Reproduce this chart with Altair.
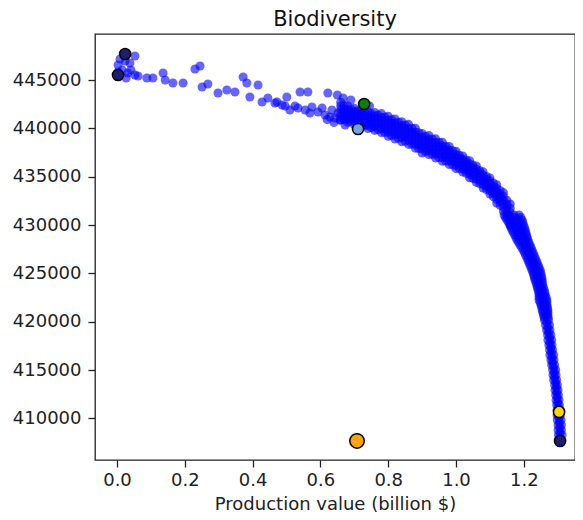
import altair as alt
import pandas as pd

# ---- sparse part of the cloud (left / upper) ----
sparse_x = [0.053, 0.003, 0.015, 0.032, 0.053, 0.088, 0.106, 0.136, 0.142, 0.165,
            0.195, 0.230, 0.245, 0.251, 0.268, 0.298, 0.324, 0.348, 0.372, 0.383,
            0.392, 0.416, 0.428, 0.445, 0.472, 0.487, 0.501, 0.525, 0.540, 0.563,
            0.575, 0.605, 0.622, 0.634, 0.658, 0.667,
            0.009, 0.024, 0.003, 0.027, 0.041, 0.062, 0.038,
            0.466, 0.496, 0.510, 0.534, 0.555, 0.569, 0.593, 0.614, 0.628, 0.643,
            0.652, 0.673, 0.673, 0.650, 0.690, 0.745, 0.620, 0.640]
sparse_y = [447480, 446550, 446040, 445720, 445520, 445210, 445210, 445720, 445000, 444690,
            444690, 446140, 446450, 444280, 444590, 443660, 443970, 443760, 445310, 444690,
            443240, 444480, 442720, 443140, 442720, 442410, 443240, 442310, 443760, 443760,
            442210, 442100, 443660, 441900, 440860, 443140,
            447170, 446970, 445830, 445210, 446040, 445410, 446760,
            442620, 442310, 441900, 442100, 441900, 441590, 441690, 441380, 441170, 441070,
            441590, 441070, 440350, 443450, 442930, 442310, 440900, 440600]

# ---- dense band (columns) ----
band_x = [0.66, 0.68, 0.70, 0.72, 0.74, 0.76, 0.78, 0.80, 0.82, 0.84, 0.86, 0.88, 0.90,
          0.92, 0.94, 0.96, 0.98, 1.00, 1.02, 1.04, 1.06, 1.08, 1.10, 1.12, 1.14, 1.16]
band_y = [
    [442700, 442330, 441960, 441590, 441220, 440850],
    [442330, 441990, 441650, 441300, 440960, 440620],
    [442070, 441740, 441410, 441080, 440750, 440420],
    [441870, 441540, 441210, 440870, 440540, 440210],
    [441730, 441380, 441030, 440690, 440340, 439990],
    [441640, 441270, 440900, 440530, 440160, 439790],
    [441520, 441130, 440740, 440340, 439950, 439560],
    [441250, 440840, 440420, 440010, 439590, 439180],
    [440970, 440560, 440140, 439730, 439310, 438900],
    [440690, 440280, 439860, 439450, 439030, 438620],
    [440410, 440000, 439580, 439170, 438750, 438340],
    [440010, 439600, 439190, 438770, 438360, 437950],
    [439470, 439070, 438660, 438260, 437850, 437450],
    [439260, 438860, 438470, 438070, 437680, 437280],
    [438910, 438520, 438120, 437730, 437330, 436940],
    [438550, 438160, 437770, 437380, 436990, 436600],
    [438120, 437750, 437370, 437000, 436620, 436250],
    [437630, 437270, 436910, 436550, 436190, 435830],
    [437140, 436810, 436480, 436140, 435810, 435480],
    [436650, 436300, 435950, 435590, 435240, 434890],
    [436100, 435760, 435420, 435090, 434750, 434410],
    [435500, 435160, 434830, 434490, 434160, 433820],
    [434870, 434540, 434210, 433870, 433540, 433210],
    [434170, 433790, 433420, 433040, 432660, 432280],
    [433350, 432970, 432580, 432200, 431820, 431430],
    [432170, 431740, 431300, 430870, 430430, 430000],
]
# staggered columns of the dense band
band2_x = [0.67, 0.69, 0.71, 0.73, 0.75, 0.77, 0.79, 0.81, 0.83, 0.85, 0.87, 0.89,
           0.91, 0.93, 0.95, 0.97, 0.99, 1.01, 1.03, 1.05, 1.07, 1.09, 1.11, 1.13, 1.15]
band2_y = [
    [442340, 441980, 441630, 441270, 440910],
    [442030, 441700, 441360, 441020, 440690],
    [441810, 441470, 441140, 440810, 440480],
    [441630, 441290, 440950, 440610, 440270],
    [441510, 441150, 440790, 440430, 440070],
    [441390, 441010, 440630, 440250, 439870],
    [441180, 440780, 440380, 439980, 439570],
    [440900, 440490, 440080, 439660, 439250],
    [440620, 440210, 439800, 439380, 438970],
    [440340, 439930, 439520, 439100, 438690],
    [440000, 439590, 439180, 438770, 438350],
    [439540, 439130, 438720, 438310, 437900],
    [439170, 438770, 438370, 437970, 437570],
    [438890, 438490, 438100, 437700, 437310],
    [438530, 438140, 437750, 437360, 436970],
    [438140, 437760, 437380, 437000, 436620],
    [437690, 437330, 436960, 436590, 436220],
    [437210, 436870, 436520, 436170, 435830],
    [436720, 436380, 436040, 435700, 435360],
    [436200, 435860, 435510, 435170, 434820],
    [435630, 435300, 434960, 434620, 434280],
    [435020, 434680, 434350, 434020, 433680],
    [434340, 433990, 433630, 433280, 432920],
    [433570, 433190, 432810, 432430, 432050],
    [432560, 432150, 431740, 431330, 430920],
]

# ---- steep tail (rows) ----
tail_y = [431030, 430520, 430000, 429480, 428970, 428450, 427930, 427410, 426900, 426380,
          425860, 425340, 424830, 424310, 423790, 423280, 422760, 422240, 421720, 421210,
          420690, 420170, 419660, 419140, 418620, 418100, 417590, 417070, 416550, 416030,
          415520, 415000, 414480, 413970, 413450, 412930, 412410, 411900, 411380, 410860,
          410340, 409830, 409310, 408790, 408280, 407760]
tail_x = [
    [1.142, 1.156, 1.171, 1.186], [1.150, 1.165, 1.180, 1.195], [1.159, 1.173, 1.186, 1.199],
    [1.165, 1.179, 1.192, 1.204], [1.173, 1.184, 1.196, 1.208], [1.180, 1.190, 1.202, 1.212],
    [1.189, 1.204, 1.218], [1.198, 1.211, 1.224], [1.205, 1.218, 1.230], [1.212, 1.224, 1.236],
    [1.218, 1.230, 1.242], [1.224, 1.236, 1.248], [1.229, 1.239, 1.251], [1.233, 1.243, 1.254],
    [1.238, 1.246, 1.255], [1.242, 1.251, 1.260], [1.245, 1.254, 1.263], [1.245, 1.257, 1.268],
    [1.251, 1.260, 1.268], [1.254, 1.263, 1.271], [1.258, 1.266, 1.271],
    [1.261, 1.273], [1.264, 1.276], [1.267, 1.277], [1.270, 1.280], [1.271, 1.282],
    [1.274, 1.283], [1.276, 1.285], [1.277, 1.288], [1.280, 1.289], [1.282, 1.291],
    [1.285, 1.294], [1.286, 1.295], [1.288, 1.297], [1.291, 1.299], [1.292, 1.301],
    [1.294, 1.302], [1.295, 1.304], [1.297, 1.305], [1.298, 1.308], [1.298, 1.308],
    [1.299, 1.310], [1.301, 1.311], [1.301, 1.311], [1.302, 1.313], [1.302, 1.311],
]
# in-between rows of the steep tail
tail2_y = [430780, 430260, 429740, 429230, 428710, 428190, 427670, 427160, 426640, 426120,
           425600, 425090, 424570, 424050, 423540, 423020, 422500, 421980, 421470, 420950,
           420430, 419920, 419400, 418880, 418360, 417850, 417330, 416810, 416290, 415780,
           415260, 414740, 414230, 413710, 413190, 412670, 412160, 411640, 411120, 410600,
           410090, 409570, 409050, 408540, 408020]
tail2_x = [
    [1.146, 1.161, 1.176, 1.191], [1.155, 1.169, 1.183, 1.197], [1.162, 1.176, 1.189, 1.202],
    [1.169, 1.182, 1.194, 1.206], [1.177, 1.187, 1.199, 1.210], [1.185, 1.200, 1.215],
    [1.194, 1.208, 1.221], [1.202, 1.215, 1.227], [1.209, 1.221, 1.233], [1.215, 1.227, 1.239],
    [1.221, 1.233, 1.245], [1.227, 1.238, 1.250], [1.231, 1.241, 1.253], [1.236, 1.245, 1.255],
    [1.240, 1.249, 1.258], [1.244, 1.253, 1.262], [1.245, 1.256, 1.266], [1.248, 1.259, 1.268],
    [1.253, 1.262, 1.270], [1.256, 1.265, 1.271], [1.260, 1.272],
    [1.268], [1.271], [1.273], [1.276], [1.277], [1.280], [1.281], [1.283], [1.285],
    [1.288], [1.290], [1.291], [1.294], [1.296], [1.297], [1.299], [1.300], [1.302],
    [1.303], [1.304], [1.305], [1.306], [1.307], [1.307],
]

# ---- highlighted solutions ----
special_name = ["a", "b", "c", "d", "e", "f", "g"]
special_x = [0.024, 0.003, 0.729, 0.711, 0.708, 1.304, 1.307]
special_y = [447690, 445520, 442520, 439930, 407660, 410660, 407660]
special_color = ["#1c1f6e", "#1c1f6e", "#0a7d0a", "#6fa4e6", "#ffa500", "#ffd400", "#1c1f6e"]

xs, ys = list(sparse_x), list(sparse_y)
for cols_x, cols_y in ((band_x, band_y), (band2_x, band2_y)):
    for bx, col in zip(cols_x, cols_y):
        for v in col:
            xs.append(bx)
            ys.append(v)
for rows_y, rows_x in ((tail_y, tail_x), (tail2_y, tail2_x)):
    for ty, row in zip(rows_y, rows_x):
        for v in row:
            xs.append(v)
            ys.append(ty)
cloud = pd.DataFrame({"x": xs, "y": ys})
spec = pd.DataFrame({"name": special_name, "x": special_x, "y": special_y})

font = "DejaVu Sans"
xscale = alt.Scale(domain=[-0.0649, 1.3510], nice=False, zero=False)
yscale = alt.Scale(domain=[405690, 449760], nice=False, zero=False)

xaxis = alt.Axis(values=[0.0, 0.2, 0.4, 0.6, 0.8, 1.0, 1.2], format=".1f", grid=False,
                 domain=False, tickSize=7, tickWidth=1.3, tickColor="#222",
                 labelFont=font, labelFontSize=18, labelColor="#222", labelPadding=4,
                 title="Production value (billion $)", titleFont=font, titleFontSize=18,
                 titleFontWeight="normal", titleColor="#222", titlePadding=6)
yaxis = alt.Axis(values=[410000, 415000, 420000, 425000, 430000, 435000, 440000, 445000],
                 format="d", grid=False, domain=False, tickSize=7, tickWidth=1.3,
                 tickColor="#222", labelFont=font, labelFontSize=18, labelColor="#222",
                 labelPadding=7, title=None)

base = alt.Chart(cloud).mark_circle(size=82, opacity=0.6, color="#0000ff").encode(
    x=alt.X("x:Q", scale=xscale, axis=xaxis),
    y=alt.Y("y:Q", scale=yscale, axis=yaxis),
)

hi = alt.Chart(spec).mark_circle(opacity=1, stroke="black", strokeWidth=1.5).encode(
    x=alt.X("x:Q", scale=xscale),
    y=alt.Y("y:Q", scale=yscale),
    color=alt.Color("name:N", scale=alt.Scale(domain=special_name, range=special_color), legend=None),
    size=alt.condition(alt.datum.name == "e", alt.value(210), alt.value(125)),
)

chart = alt.layer(base, hi).properties(
    width=480, height=426,
    title=alt.TitleParams("Biodiversity", font=font, fontSize=21, fontWeight="normal",
                          color="#111", anchor="middle", offset=4),
    autosize=alt.AutoSizeParams(type="none"),
    padding={"left": 87, "top": 26, "right": 0, "bottom": 52},
).configure_view(stroke="#222", strokeWidth=1.3)

chart.save("out.html", embed_options={"renderer": "svg", "actions": False})
